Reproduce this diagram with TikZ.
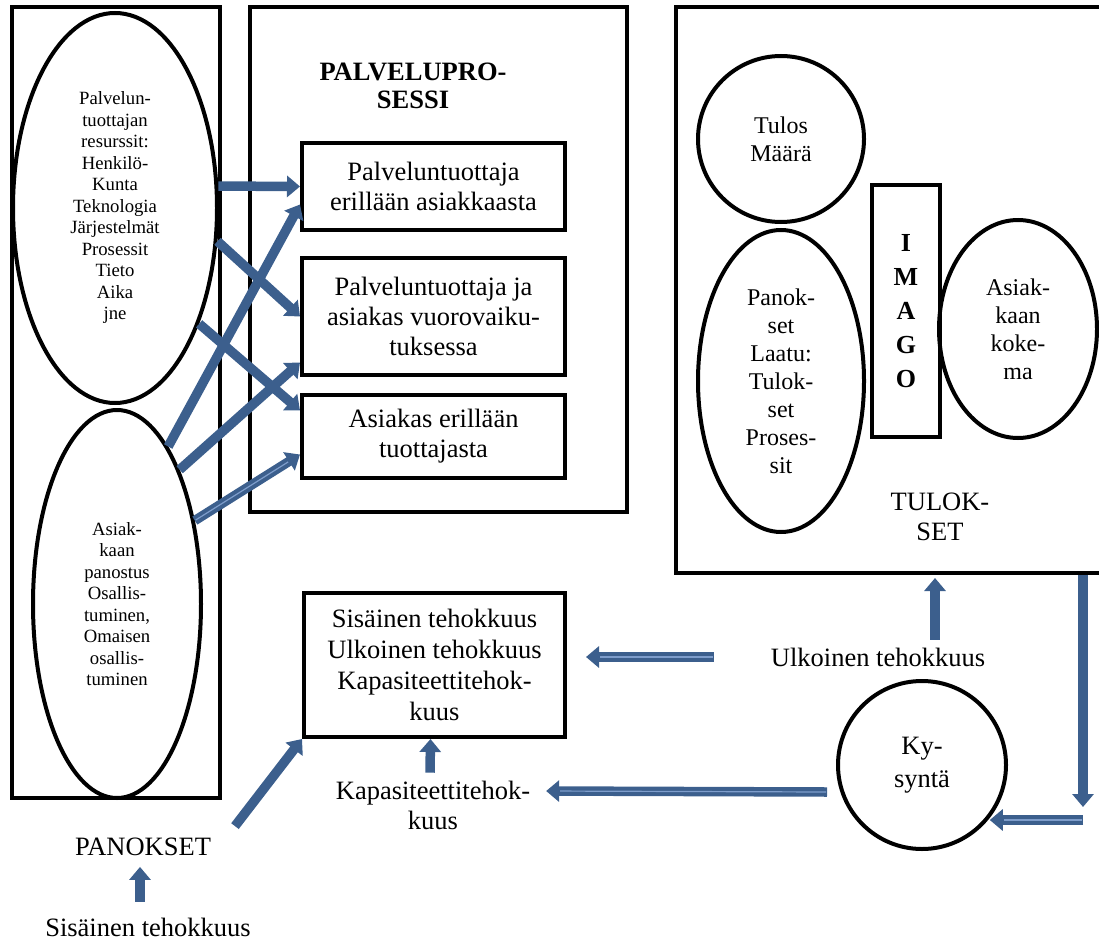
\documentclass[tikz,border=0pt]{standalone}
\usepackage{fontspec}
\setmainfont{Liberation Serif}
\usetikzlibrary{arrows.meta,positioning,shapes.geometric}
\definecolor{flowblue}{HTML}{3C5F8D}
\definecolor{flowlight}{HTML}{7E9DCB}

\begin{document}
\begin{tikzpicture}[x=1pt,y=-1pt,>={Triangle[width=21pt,length=13pt]},line width=4pt,
    frame/.style={draw,rectangle,inner sep=0pt},
    box node/.style={draw,rectangle,inner sep=0pt,minimum width=263pt,align=center,font=\fontsize{26.5}{30}\selectfont},
    oval node/.style={draw,ellipse,inner sep=0pt,align=center,font=\fontsize{24}{28}\selectfont},
    small oval/.style={oval node,font=\fontsize{18.7}{21.5}\selectfont},
    round node/.style={draw,circle,inner sep=0pt,align=center,font=\fontsize{24}{28}\selectfont},
    label node/.style={inner sep=0pt,align=center,font=\fontsize{26.5}{30}\selectfont},
    flow/.style={draw=flowblue,line width=9.5pt,->},
    stripe/.style={postaction={draw=flowlight,line width=1.2pt,arrows=-,shorten >=14pt,shorten <=1pt}}]
    \useasboundingbox (0,0) rectangle (1099,944);
    \node[frame,minimum width=208pt,minimum height=791pt] (1) at (116,402.5) {};
    \node[frame,minimum width=377pt,minimum height=505pt] (2) at (438.5,259.5) {};
    \node[frame,minimum width=436pt,minimum height=566pt] (3) at (894,290) {};
    \node[small oval,minimum width=204pt,minimum height=390pt] (4) at (115,208)
      {Palvelun-\\tuottajan\\resurssit:\\Henkilö-\\Kunta\\Teknologia\\Järjestelmät\\Prosessit\\Tieto\\Aika\\jne};
    \node[small oval,minimum width=168pt,minimum height=388pt] (5) at (117,604)
      {Asiak-\\kaan\\panostus\\Osallis-\\tuminen,\\Omaisen\\osallis-\\tuminen};
    \node[label node,font=\bfseries\fontsize{26.5}{28}\selectfont] (6) at (413,86) {PALVELUPRO-\\SESSI};
    \node[box node,minimum height=87pt] (7) at (433.5,186.5) {Palveluntuottaja\\erillään asiakkaasta};
    \node[box node,minimum height=117pt] (8) [below=24pt of 7] {Palveluntuottaja ja\\asiakas vuorovaiku-\\tuksessa};
    \node[box node,minimum height=83pt] (9) [below=16pt of 8] {Asiakas erillään\\tuottajasta};
    \node[box node,minimum width=261pt,minimum height=144pt,font=\fontsize{26.5}{31}\selectfont] (10) at (434.5,665)
      {Sisäinen tehokkuus\\Ulkoinen tehokkuus\\Kapasiteettitehok-\\kuus};
    \node[round node,minimum size=166pt] (11) at (781,139) {Tulos\\Määrä};
    \node[oval node,minimum width=166pt,minimum height=302pt] (12) [below=4pt of 11]
      {Panok-\\set\\Laatu:\\Tulok-\\set\\Proses-\\sit};
    \node[frame,minimum width=68pt,minimum height=252pt,align=center,font=\bfseries\fontsize{26}{34}\selectfont] (13) at (906,311)
      {I\\M\\A\\G\\O};
    \node[oval node,minimum width=158pt,minimum height=218pt] (14) at (1018,329) {Asiak-\\kaan\\koke-\\ma};
    \node[label node] (15) at (940,517) {TULOK-\\SET};
    \node[label node] (16) at (878,657) {Ulkoinen tehokkuus};
    \node[round node,minimum size=168pt,font=\fontsize{26.5}{33}\selectfont] (17) at (922,765) {Ky-\\syntä};
    \node[label node] (18) at (433,805) {Kapasiteettitehok-\\kuus};
    \node[label node] (19) at (143,847) {PANOKSET};
    \node[label node] (20) at (148,927) {Sisäinen tehokkuus};
    \coordinate (c) at (1083,820);
    \path
    (4.12) edge[flow] (7.west)
    (4.342) edge[flow] (8.west)
    (4.306) edge[flow] ([yshift=26pt]9.west)
    (5.72) edge[flow] ([yshift=-18pt]7.west)
    (5.65) edge[flow] ([yshift=-46pt]8.west)
    (5.47) edge[flow,stripe] ([yshift=-18pt]9.west)
    ([xshift=22pt,yshift=10pt]19.north east) edge[flow] (10.south west)
    ([xshift=-8pt,yshift=14pt]20.north) edge[flow] ([xshift=-3pt,yshift=-9pt]19.south)
    ([xshift=-3pt,yshift=6pt]18.north) edge[flow] ([xshift=-4pt]10.south)
    ([xshift=-55pt]16.west) edge[flow,stripe] ([xshift=19pt,yshift=8pt]10.east)
    ([xshift=57pt,yshift=6pt]16.north) edge[flow] ([xshift=41pt,yshift=-3pt]3.south)
    ([xshift=189pt]3.south) edge[flow] ([yshift=13pt]c)
    (c) edge[flow,stripe] (c -| 17.322)
    ([xshift=-9pt,yshift=-27pt]17.west) edge[flow,stripe] ([xshift=14pt,yshift=14pt]18.east);
\end{tikzpicture}
\end{document}
